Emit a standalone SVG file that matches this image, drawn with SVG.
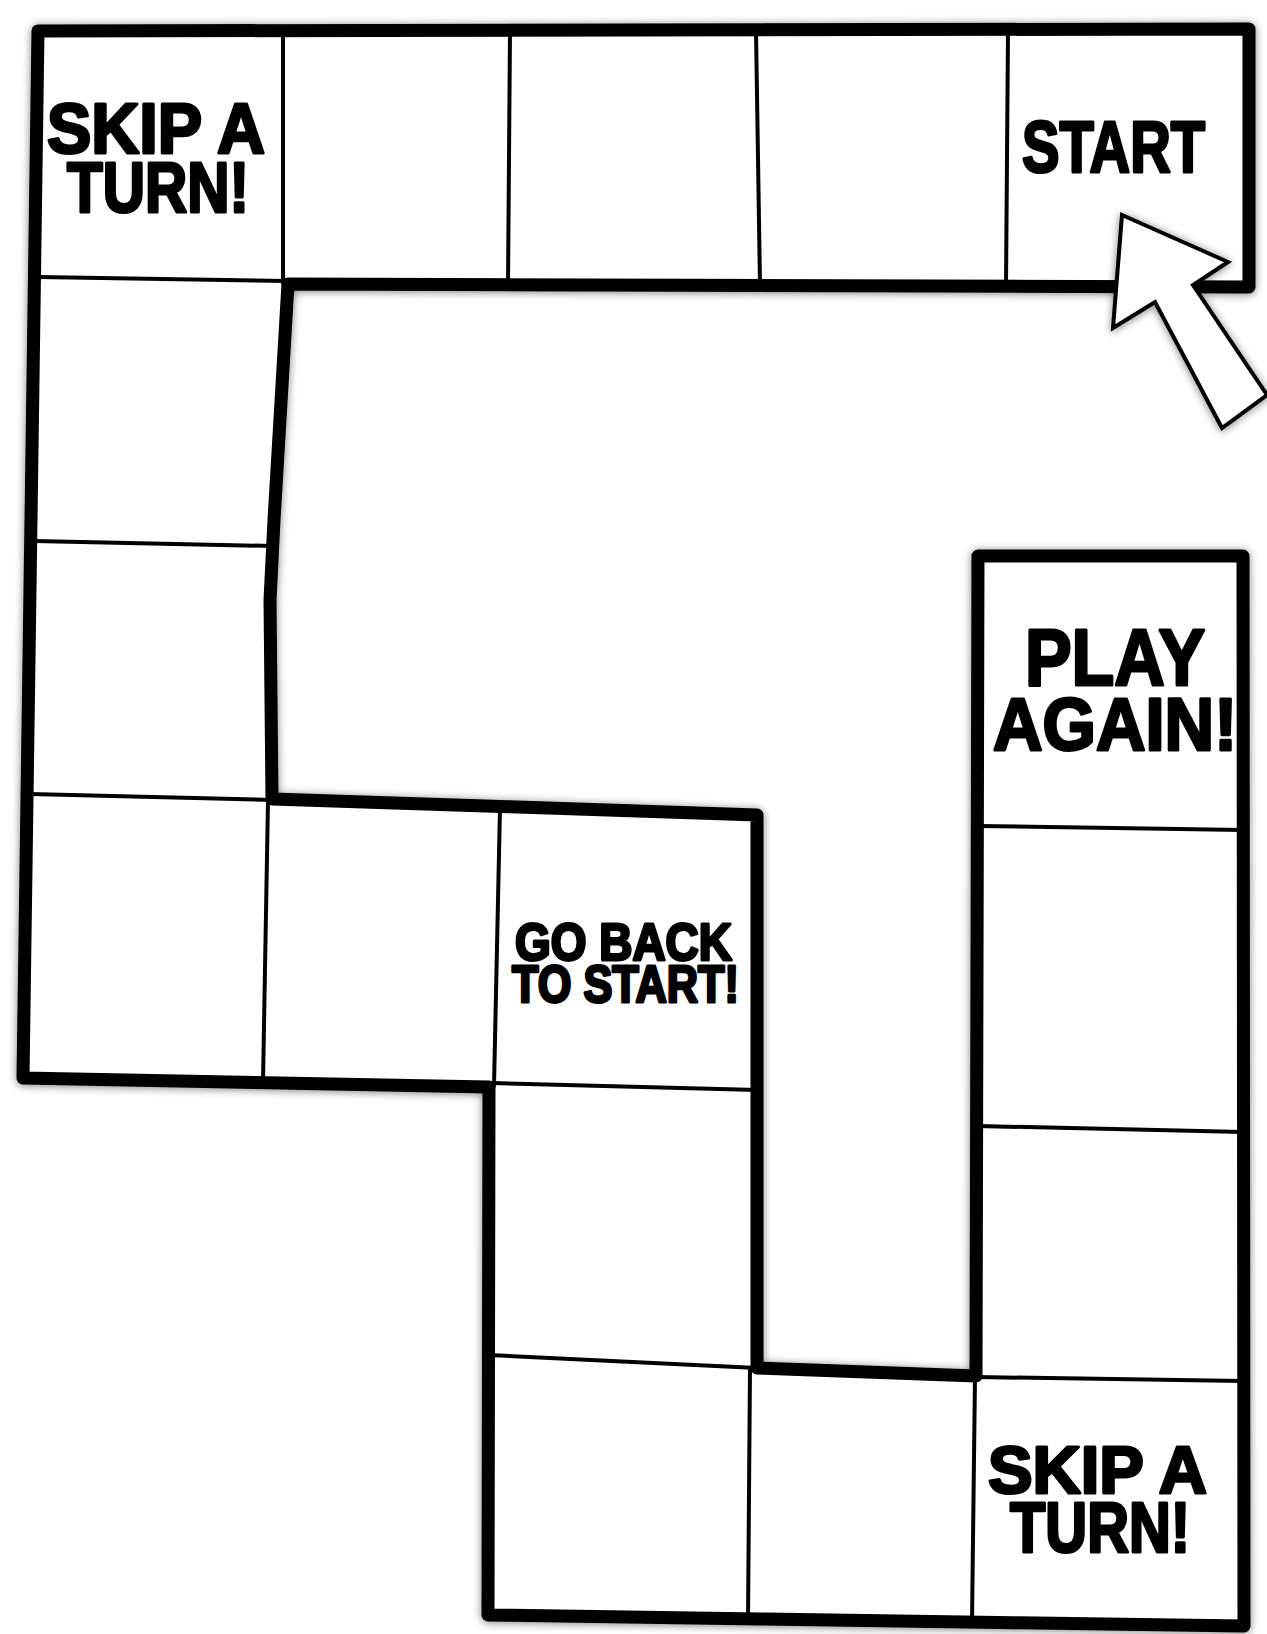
<svg xmlns="http://www.w3.org/2000/svg" width="1267" height="1634" viewBox="0 0 1267 1634">
<style>
.outline{fill:#fff;stroke:#000;stroke-width:13;stroke-linejoin:round;stroke-linecap:round}
.div{fill:none;stroke:#000;stroke-width:4;stroke-linecap:round}
.lbl{font-family:"Liberation Sans",Arial,sans-serif;font-weight:bold;fill:#000;stroke:#000;stroke-width:3;stroke-linejoin:round}
.arrow{fill:#fff;stroke:#000;stroke-width:4;stroke-linejoin:miter}
</style>
<defs>
<filter id="shadow" x="-5%" y="-5%" width="110%" height="110%">
<feDropShadow dx="0" dy="1" stdDeviation="4" flood-color="#000" flood-opacity="0.5"/>
</filter>
</defs>
<rect x="0" y="0" width="1267" height="1634" fill="#fff"/>
<g id="board">
<path class="outline" filter="url(#shadow)" d="M38,31 L1249,29 L1249,287 L288,284 L274,520 L270,600 L272,799 L757,815 L757,1368 L976,1376 L978,556 L1243,556 L1244,1626 L488,1615 L489,1087 L23,1078 Z"/>
<g id="dividers">
<line class="div" x1="283" y1="31" x2="283" y2="283"/>
<line class="div" x1="510" y1="31" x2="508" y2="285"/>
<line class="div" x1="756" y1="31" x2="760" y2="285"/>
<line class="div" x1="1008" y1="30" x2="1006" y2="286"/>
<line class="div" x1="38" y1="277" x2="285" y2="281"/>
<line class="div" x1="34" y1="541" x2="272" y2="546"/>
<line class="div" x1="30" y1="794" x2="272" y2="800"/>
<line class="div" x1="268" y1="800" x2="263" y2="1082"/>
<line class="div" x1="500" y1="808" x2="494" y2="1086"/>
<line class="div" x1="492" y1="1083" x2="757" y2="1090"/>
<line class="div" x1="489" y1="1355" x2="757" y2="1368"/>
<line class="div" x1="750" y1="1368" x2="748" y2="1620"/>
<line class="div" x1="975" y1="1376" x2="972" y2="1622"/>
<line class="div" x1="978" y1="826" x2="1243" y2="830"/>
<line class="div" x1="978" y1="1126" x2="1243" y2="1132"/>
<line class="div" x1="976" y1="1377" x2="1243" y2="1381" stroke-width="5"/>
</g>
</g>
<g id="cell-skip-top">
<text class="lbl" x="47" y="153" font-size="70" textLength="218" lengthAdjust="spacingAndGlyphs">SKIP A</text>
<text class="lbl" x="67" y="212" font-size="70" textLength="182" lengthAdjust="spacingAndGlyphs">TURN!</text>
</g>
<g id="cell-start">
<text class="lbl" x="1022" y="172" font-size="72" textLength="183" lengthAdjust="spacingAndGlyphs">START</text>
</g>
<g id="start-arrow">
<polygon class="arrow" filter="url(#shadow)" points="1122,215 1228,262 1193,285 1267,395 1222,428 1155,302 1113,328"/>
</g>
<g id="cell-go-back">
<text class="lbl" x="515" y="960" font-size="52" textLength="217" lengthAdjust="spacingAndGlyphs">GO BACK</text>
<text class="lbl" x="512" y="1002" font-size="52" textLength="227" lengthAdjust="spacingAndGlyphs">TO START!</text>
</g>
<g id="cell-play-again">
<text class="lbl" x="1025" y="685" font-size="80" textLength="180" lengthAdjust="spacingAndGlyphs">PLAY</text>
<text class="lbl" x="993" y="750" font-size="74" textLength="244" lengthAdjust="spacingAndGlyphs">AGAIN!</text>
</g>
<g id="cell-skip-bottom">
<text class="lbl" x="988" y="1493" font-size="67" textLength="219" lengthAdjust="spacingAndGlyphs">SKIP A</text>
<text class="lbl" x="1010" y="1552" font-size="70" textLength="180" lengthAdjust="spacingAndGlyphs">TURN!</text>
</g>
</svg>
